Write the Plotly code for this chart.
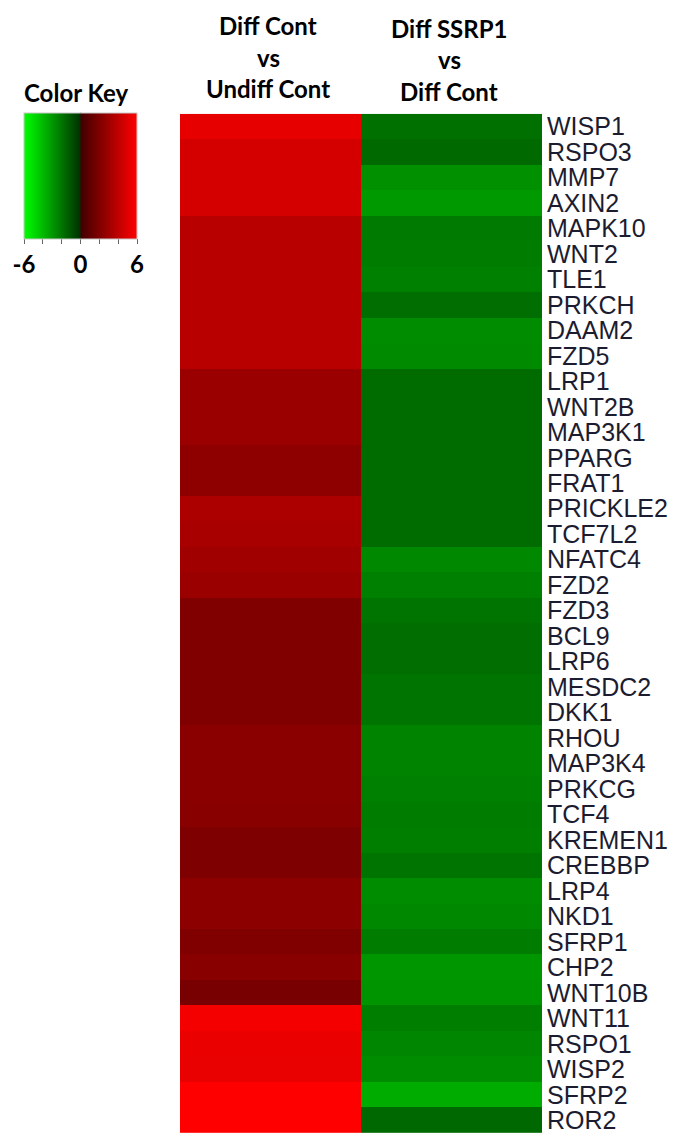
import plotly.graph_objects as go

# Gene rows, top to bottom
genes = [
    "WISP1", "RSPO3", "MMP7", "AXIN2", "MAPK10", "WNT2", "TLE1", "PRKCH",
    "DAAM2", "FZD5", "LRP1", "WNT2B", "MAP3K1", "PPARG", "FRAT1", "PRICKLE2",
    "TCF7L2", "NFATC4", "FZD2", "FZD3", "BCL9", "LRP6", "MESDC2", "DKK1",
    "RHOU", "MAP3K4", "PRKCG", "TCF4", "KREMEN1", "CREBBP", "LRP4", "NKD1",
    "SFRP1", "CHP2", "WNT10B", "WNT11", "RSPO1", "WISP2", "SFRP2", "ROR2",
]

# log2 fold change: differentiated control vs undifferentiated control
diff_vs_undiff = [
    5.2, 4.65, 4.65, 4.65, 3.77, 3.77, 3.77, 3.77,
    3.77, 3.77, 2.86, 2.86, 2.86, 2.45, 2.45, 3.39,
    3.27, 3.02, 2.86, 2.01, 2.01, 2.01, 2.01, 2.01,
    2.32, 2.32, 2.32, 2.26, 1.95, 1.95, 2.39, 2.39,
    2.01, 2.26, 1.76, 5.69, 5.37, 5.3, 6.0, 6.0,
]

# log2 fold change: differentiated SSRP1 vs differentiated control
ssrp1_vs_diff = [
    -1.86, -1.68, -2.78, -3.07, -2.14, -2.23, -2.32, -1.80,
    -2.67, -2.61, -1.74, -1.74, -1.74, -1.74, -1.74, -1.74,
    -1.74, -2.55, -2.32, -1.97, -1.80, -1.80, -1.97, -1.97,
    -2.43, -2.43, -2.32, -2.20, -2.26, -1.97, -2.67, -2.55,
    -2.20, -2.96, -2.90, -2.26, -2.49, -2.67, -3.59, -1.62,
]

comparisons = ["Diff Cont vs Undiff Cont", "Diff SSRP1 vs Diff Cont"]
key_ticks = [-6, -4, -2, 0, 2, 4, 6]
key_text = ["-6", "", "", "0", "", "", "6"]

W, H = 673, 1135
title_font = dict(family="Lato", size=24, color="#000000", weight="bold")

# Colour key box (pixels)
KEY_L, KEY_R, KEY_T, KEY_B = 24, 137, 112, 238

z = [[a, b] for a, b in zip(diff_vs_undiff, ssrp1_vs_diff)]

fig = go.Figure(
    go.Heatmap(
        z=z,
        x=comparisons,
        y=genes,
        zmin=-6,
        zmax=6,
        colorscale=[
            [0.0, "#00FF00"],
            [0.4999, "#003000"],
            [0.5001, "#400000"],
            [1.0, "#FF0000"],
        ],
        xgap=0,
        ygap=0,
        colorbar=dict(
            orientation="h",
            lenmode="pixels",
            len=KEY_R - KEY_L,
            thicknessmode="pixels",
            thickness=KEY_B - KEY_T,
            x=(KEY_L + KEY_R) / 2 / W,
            xanchor="center",
            y=1 - KEY_T / H,
            yanchor="top",
            xpad=0,
            ypad=0,
            outlinewidth=1,
            outlinecolor="#c8c8c8",
            tickmode="array",
            tickvals=key_ticks,
            ticktext=key_text,
            ticks="outside",
            ticklen=5,
            tickwidth=1,
            tickcolor="#666666",
            tickfont=dict(family="Lato", size=24, color="#000000", weight="bold"),
        ),
        hovertemplate="%{y}<br>%{x}: %{z}<extra></extra>",
    )
)

fig.update_xaxes(
    domain=[180 / W, 542 / W],
    showticklabels=False,
    ticks="",
    showgrid=False,
    zeroline=False,
)
fig.update_yaxes(
    domain=[1 - 1134 / H, 1 - 113 / H],
    autorange="reversed",
    side="right",
    tickmode="array",
    tickvals=genes,
    ticktext=genes,
    ticks="",
    ticklabelstandoff=4,
    showgrid=False,
    zeroline=False,
    tickfont=dict(family="Liberation Sans, Arial", size=25, color="#1c1c30"),
)

# Zero divider and baseline of the colour key
fig.add_shape(
    type="line", xref="paper", yref="paper",
    x0=(KEY_L + KEY_R) / 2 / W, x1=(KEY_L + KEY_R) / 2 / W,
    y0=1 - KEY_B / H, y1=1 - KEY_T / H,
    line=dict(color="#000000", width=1.5),
)
fig.add_shape(
    type="line", xref="paper", yref="paper",
    x0=KEY_L / W, x1=KEY_R / W,
    y0=1 - (KEY_B - 1) / H, y1=1 - (KEY_B - 1) / H,
    line=dict(color="#333333", width=2),
)

# Column headers and colour key title
headers = [
    ("Diff Cont", 268, 25), ("vs", 268, 57), ("Undiff Cont", 268, 88),
    ("Diff SSRP1", 449, 28), ("vs", 449, 59), ("Diff Cont", 449, 91),
    ("Color Key", 76, 92),
]
for text, cx, cy in headers:
    fig.add_annotation(
        text=text,
        x=cx / W,
        y=1 - cy / H,
        xref="paper",
        yref="paper",
        xanchor="center",
        yanchor="middle",
        showarrow=False,
        font=title_font,
    )

fig.update_layout(
    width=W,
    height=H,
    margin=dict(l=0, r=0, t=0, b=0),
    paper_bgcolor="#ffffff",
    plot_bgcolor="#ffffff",
)

fig.write_html("out.html")
